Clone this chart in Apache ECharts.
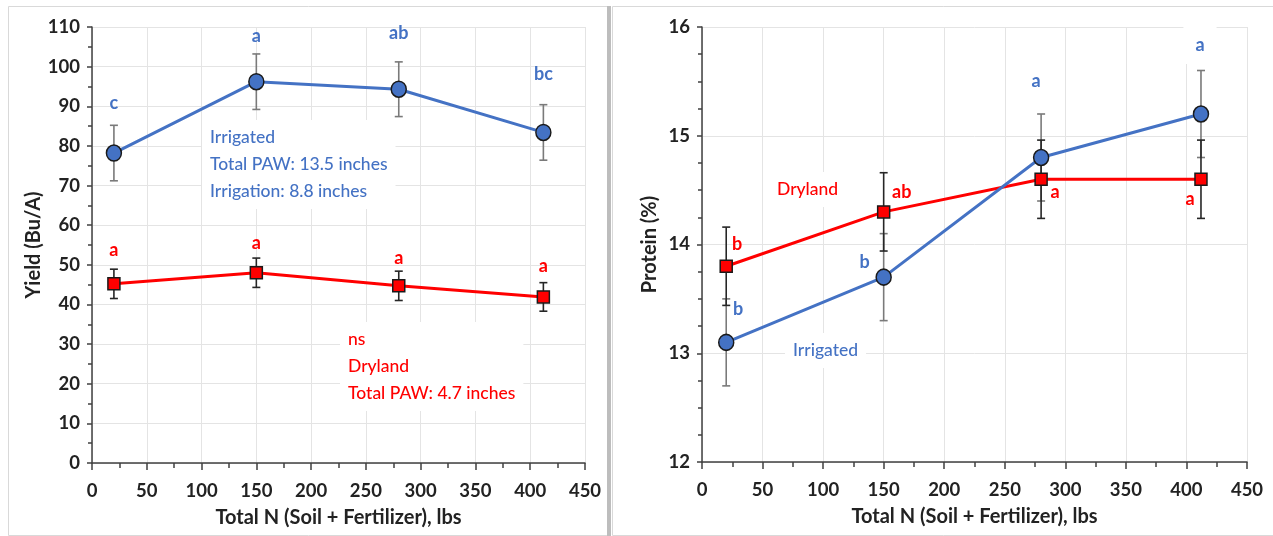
<!DOCTYPE html>
<html>
<head>
<meta charset="utf-8">
<script src="https://cdn.jsdelivr.net/npm/echarts@6/dist/echarts.min.js"></script>
<style>
html, body { margin: 0; padding: 0; background: #fff; }
#main { width: 1273px; height: 536px; }
</style>
</head>
<body>
<div id="main"></div>
<script>
// total N rates (x) shared by both panels
var totalN = [20, 150, 280, 412];

// yield panel
var yieldIrr = [78.2, 96.2, 94.3, 83.4];
var yieldIrrErr = [7.0, 7.0, 6.9, 7.0];
var yieldIrrLetters = ['c', 'a', 'ab', 'bc'];
var yieldDry = [45.2, 48.0, 44.7, 41.9];
var yieldDryErr = [3.7, 3.7, 3.7, 3.6];
var yieldDryLetters = ['a', 'a', 'a', 'a'];

// protein panel
var protIrr = [13.1, 13.7, 14.8, 15.2];
var protIrrErr = [0.4, 0.4, 0.4, 0.4];
var protIrrLetters = ['b', 'b', 'a', 'a'];
var protDry = [13.8, 14.3, 14.6, 14.6];
var protDryErr = [0.36, 0.36, 0.36, 0.36];
var protDryLetters = ['b', 'ab', 'a', 'a'];

var BLUE = '#4472C4';
var RED = '#FF0000';
var FONT = 'Lato';

// label offsets (px) from each marker centre
var offYieldIrr = [[0, -50], [0, -46], [0, -56], [0, -58]];
var offYieldDry = [[0, -34], [0, -30], [0, -28], [0, -31]];
var offProtIrr = [[12, -33], [-19, -15], [-5, -76], [-1, -69]];
var offProtDry = [[11, -22], [18, -20], [14, 13], [-11, 20]];

var myChart = echarts.init(document.getElementById('main'));

function errData(ys, errs) {
  return totalN.map(function (x, i) { return [x, ys[i], errs[i]]; });
}

function labelled(ys, letters, offs, color, bgIdx) {
  return totalN.map(function (x, i) {
    var lab = {
      show: true,
      formatter: letters[i],
      position: 'inside',
      offset: offs[i],
      color: color,
      fontFamily: FONT,
      fontSize: 18,
      fontWeight: 'bold'
    };
    if (bgIdx === i) {
      lab.backgroundColor = '#fff';
      lab.padding = [10, 12];
    }
    return { value: [x, ys[i]], label: lab };
  });
}

// error bar drawing
function errorBar(color) {
  return function (params, api) {
    var x = api.value(0), y = api.value(1), e = api.value(2);
    var top = api.coord([x, y + e]);
    var bot = api.coord([x, y - e]);
    var w = 4;
    var st = { stroke: color, lineWidth: 1.6 };
    return {
      type: 'group',
      children: [
        { type: 'line', shape: { x1: top[0], y1: top[1], x2: bot[0], y2: bot[1] }, style: st },
        { type: 'line', shape: { x1: top[0] - w, y1: top[1], x2: top[0] + w, y2: top[1] }, style: st },
        { type: 'line', shape: { x1: bot[0] - w, y1: bot[1], x2: bot[0] + w, y2: bot[1] }, style: st }
      ]
    };
  };
}

function xAx(gi) {
  return {
    type: 'value', gridIndex: gi, min: 0, max: 450, interval: 50,
    name: 'Total N (Soil + Fertilizer), lbs',
    nameLocation: 'middle', nameGap: 45,
    nameTextStyle: { fontFamily: FONT, fontSize: 20, fontWeight: 'bold', color: '#222' },
    axisLine: { onZero: false, lineStyle: { color: '#404040', width: 1.5 } },
    axisTick: { length: 7, lineStyle: { color: '#404040', width: 1.5 } },
    minorTick: { show: true, splitNumber: 2, length: 5, lineStyle: { color: '#404040', width: 1.5 } },
    axisLabel: { margin: 19, fontFamily: FONT, fontSize: 18.5, fontWeight: 'bold', color: '#222' },
    splitLine: { show: true, lineStyle: { color: '#e4e4e4', width: 1 } }
  };
}

function yAx(gi, min, max, interval, minorSplit, name, gap) {
  return {
    type: 'value', gridIndex: gi, min: min, max: max, interval: interval,
    name: name, nameLocation: 'middle', nameGap: gap,
    nameTextStyle: { fontFamily: FONT, fontSize: 20, fontWeight: 'bold', color: '#222' },
    axisLine: { show: true, lineStyle: { color: '#404040', width: 1.5 } },
    axisTick: { show: true, length: 5, lineStyle: { color: '#404040', width: 1.5 } },
    minorTick: { show: true, splitNumber: minorSplit, length: 4, lineStyle: { color: '#404040', width: 1.5 } },
    axisLabel: { margin: 12, fontFamily: FONT, fontSize: 18.5, fontWeight: 'bold', color: '#222' },
    splitLine: { show: true, lineStyle: { color: '#e4e4e4', width: 1 } }
  };
}

function lineSeries(xi, ys, letters, offs, color, symbol, size, bgIdx) {
  return {
    type: 'line', xAxisIndex: xi, yAxisIndex: xi,
    data: labelled(ys, letters, offs, color, bgIdx),
    symbol: symbol, symbolSize: size,
    lineStyle: { color: color, width: 3 },
    itemStyle: { color: color, borderColor: '#1a1a1a', borderWidth: 1.5 },
    z: 5, animation: false
  };
}

function errSeries(xi, ys, errs, color) {
  return {
    type: 'custom', xAxisIndex: xi, yAxisIndex: xi,
    data: errData(ys, errs),
    encode: { x: 0, y: 1 },
    renderItem: errorBar(color),
    z: 3, animation: false, silent: true
  };
}

var noteStyle = function (txt, color) {
  return {
    text: txt, fill: color, font: '500 17.5px ' + FONT, lineHeight: 27,
    backgroundColor: '#fff', padding: [4, 8]
  };
};

option = {
  backgroundColor: '#fff',
  animation: false,
  grid: [
    { left: 92, top: 27, width: 493, height: 436 },
    { left: 702, top: 27, width: 545, height: 435 }
  ],
  xAxis: [xAx(0), xAx(1)],
  yAxis: [
    yAx(0, 0, 110, 10, 2, 'Yield (Bu/A)', 47),
    yAx(1, 12, 16, 1, 4, 'Protein (%)', 42)
  ],
  series: [
    errSeries(0, yieldIrr, yieldIrrErr, '#7a7a7a'),
    errSeries(0, yieldDry, yieldDryErr, '#262626'),
    lineSeries(0, yieldIrr, yieldIrrLetters, offYieldIrr, BLUE, 'circle', [15, 16]),
    lineSeries(0, yieldDry, yieldDryLetters, offYieldDry, RED, 'rect', 12),
    errSeries(1, protIrr, protIrrErr, '#7a7a7a'),
    errSeries(1, protDry, protDryErr, '#262626'),
    lineSeries(1, protDry, protDryLetters, offProtDry, RED, 'rect', 12),
    lineSeries(1, protIrr, protIrrLetters, offProtIrr, BLUE, 'circle', [15, 16], 3)
  ],
  graphic: [
    // panel frames
    { type: 'rect', shape: { x: 8.5, y: 6.5, width: 600, height: 529 }, style: { fill: 'none', stroke: '#d9d9d9', lineWidth: 1 }, z: 0 },
    { type: 'rect', shape: { x: 612.5, y: 6.5, width: 662, height: 529 }, style: { fill: 'none', stroke: '#d9d9d9', lineWidth: 1 }, z: 0 },
    { type: 'rect', shape: { x: 607, y: 6, width: 4, height: 530 }, style: { fill: '#bdbdbd' }, z: 0 },
    // annotations
    { type: 'text', x: 202, y: 120, style: noteStyle('Irrigated\nTotal PAW: 13.5 inches\nIrrigation: 8.8 inches', BLUE), z: 4 },
    { type: 'text', x: 340, y: 322, style: noteStyle('ns\nDryland\nTotal PAW: 4.7 inches', RED), z: 4 },
    { type: 'text', x: 769, y: 172, style: noteStyle('Dryland', RED), z: 4 },
    { type: 'text', x: 785, y: 333, style: noteStyle('Irrigated', BLUE), z: 4 }
  ]
};

myChart.setOption(option);
</script>
</body>
</html>
